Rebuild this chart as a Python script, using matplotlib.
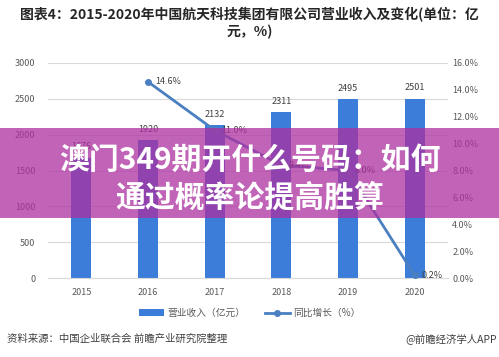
import matplotlib.pyplot as plt
from matplotlib.patches import Rectangle
import numpy as np

plt.rcParams['font.family'] = ['Noto Sans CJK SC', 'DejaVu Sans']

# 数据
years = ['2015', '2016', '2017', '2018', '2019', '2020']
revenue = [1676, 1920, 2132, 2311, 2495, 2501]
growth_years = ['2016', '2017', '2018', '2019', '2020']
growth = [14.6, 11.0, 8.4, 8.0, 0.2]
left_ticks = [0, 500, 1000, 1500, 2000, 2500, 3000]
right_ticks = [0, 2, 4, 6, 8, 10, 12, 14, 16]

W, H = 499, 357
fig = plt.figure(figsize=(W / 100, H / 100), dpi=100)
fig.patch.set_facecolor('white')

bar_color = '#3b7dd8'
line_color = '#4a7fc1'
grey = '#595959'

ax = fig.add_axes([48 / W, 79 / H, 400 / W, 215 / H])
x = np.arange(len(years))
bars = ax.bar(x, revenue, width=0.3, color=bar_color, zorder=2, label='营业收入（亿元）')
for xi, v in zip(x, revenue):
    ax.text(xi, v + 90, str(v), ha='center', va='bottom', fontsize=6.5, color='#404040')

ax.set_xlim(-0.5, len(years) - 0.5)
ax.set_ylim(0, 3000)
ax.set_yticks(left_ticks)
ax.set_xticks(x)
ax.set_xticklabels(years)
ax.yaxis.grid(True, color='#d9d9d9', linewidth=0.8, zorder=0)
ax.set_axisbelow(True)
for s in ['top', 'right', 'left']:
    ax.spines[s].set_visible(False)
ax.spines['bottom'].set_color('#d9d9d9')
ax.tick_params(axis='both', length=0, labelsize=6.5, colors=grey)
ax.tick_params(axis='x', pad=7)
ax.tick_params(axis='y', pad=9)

ax2 = ax.twinx()
gx = [years.index(y) for y in growth_years]
line, = ax2.plot(gx, growth, color=line_color, lw=2, marker='o', markersize=4,
                 zorder=3, label='同比增长（%）')
ax2.set_ylim(0, 16)
ax2.set_yticks(right_ticks)
ax2.set_yticklabels([f'{t:.1f}%' for t in right_ticks])
for s in ax2.spines.values():
    s.set_visible(False)
ax2.tick_params(axis='y', length=0, labelsize=6.5, colors=grey, pad=3)
for xi, g in zip(gx, growth):
    ax2.annotate(f'{g:.1f}%', (xi, g), xytext=(5, 0), textcoords='offset points',
                 ha='left', va='center', fontsize=6.5, color='#404040')

fig.legend(handles=[bars, line], loc='center', bbox_to_anchor=(0.5, (H - 313) / H),
           ncol=2, frameon=False, fontsize=7, labelcolor=grey,
           handlelength=2.6, handleheight=0.6, handletextpad=0.3, columnspacing=2.0)

# 标题
fig.text(0.5, (H - 15) / H, '图表4：2015-2020年中国航天科技集团有限公司营业收入及变化(单位：亿',
         ha='center', va='center', fontsize=10, fontweight='bold', color='#262626')
fig.text(0.5, (H - 32) / H, '元，%)', ha='center', va='center',
         fontsize=10, fontweight='bold', color='#262626')

# 脚注
fig.text(7 / W, (H - 339) / H, '资料来源：中国企业联合会 前瞻产业研究院整理',
         ha='left', va='center', fontsize=7.5, color='#404040')
fig.text(497 / W, (H - 339) / H, '@前瞻经济学人APP',
         ha='right', va='center', fontsize=7.5, color='#404040')

# 覆盖条
fig.patches.append(Rectangle((0, 139 / H), 1, 90 / H, transform=fig.transFigure,
                             facecolor='#ad30a1', alpha=0.75, zorder=10))
fig.text(0.5, (H - 160) / H, '澳门349期开什么号码：如何', ha='center', va='center',
         fontsize=21.5, fontweight='heavy', color='white', zorder=11)
fig.text(0.5, (H - 198) / H, '通过概率论提高胜算', ha='center', va='center',
         fontsize=21.5, fontweight='heavy', color='white', zorder=11)

fig.savefig('out.png', dpi=100)
